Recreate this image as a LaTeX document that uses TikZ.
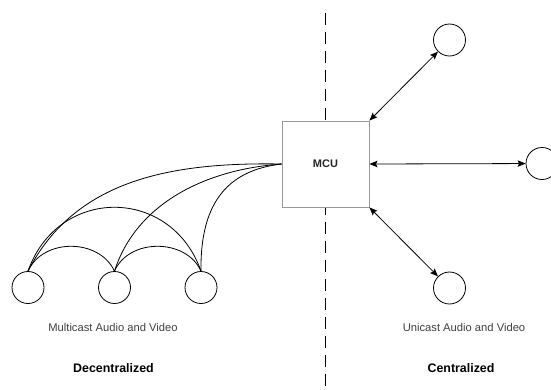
\documentclass[tikz,border=0pt]{standalone}
\usepackage{fontspec}
\setmainfont{Liberation Sans}
\usetikzlibrary{arrows.meta}
\begin{document}
\begin{tikzpicture}[x=1pt,y=-1pt,
  peer/.style={draw=black,circle,minimum size=32pt,inner sep=0pt,line width=0.8pt,fill=white},
  mcubox/.style={draw=black!40,fill=white,line width=0.9pt,minimum width=87pt,minimum height=86pt,inner sep=0pt,font=\fontsize{11}{13}\selectfont\bfseries,text=black!85},
  link/.style={draw=black,line width=0.8pt},
  duplex/.style={link,{Stealth[length=8pt,width=6.5pt,inset=1.5pt]}-{Stealth[length=8pt,width=6.5pt,inset=1.5pt]}},
  caption/.style={font=\fontsize{11.2}{13}\selectfont,text=black!75},
  heading/.style={font=\fontsize{12.4}{14}\selectfont\bfseries,text=black},
  divider/.style={draw=black,line width=1.2pt,dash pattern=on 12.5pt off 6.5pt}
]
\useasboundingbox (0,0) rectangle (551,389);

% divider between the two models
\coordinate (dtop) at (325.5,12.5);
\coordinate (dbot) at (325.5,392);
\draw[divider] (dtop) -- (dbot);

% centralized side: MCU and its participants
\node[mcubox] (mcu) at (325.5,164) {MCU};
\node[peer] (r1) at (449.5,40) {};
\node[peer] (r2) at (542,163.5) {};
\node[peer] (r3) at (449.5,288) {};

\draw[duplex] (mcu.north east) -- (r1);
\draw[duplex] (mcu.east) -- (r2);
\draw[duplex] (mcu.south east) -- (r3);

% decentralized side: peers in a full mesh
\node[peer] (l1) at (28,287.5) {};
\node[peer] (l2) at (114.5,287.5) {};
\node[peer] (l3) at (201,287.5) {};

\draw[link] (l1.north) .. controls (43,238) and (99,238) .. (l2.north);
\draw[link] (l2.north) .. controls (129,238) and (186,238) .. (l3.north);
\draw[link] (l1.north) .. controls (58,186) and (171,186) .. (l3.north);
\draw[link] (l1.north) .. controls (75,180) and (170,162) .. (mcu.west);
\draw[link] (l2.north) .. controls (135,207) and (200,170) .. (mcu.west);
\draw[link] (l3.north) .. controls (200,200) and (230,170) .. (mcu.west);

% captions
\node[caption] (mcap) at (113,327) {Multicast Audio and Video};
\node[heading] (mhead) at (113.5,368) {Decentralized};
\node[caption] (ucap) at (464,327) {Unicast Audio and Video};
\node[heading] (uhead) at (461,368) {Centralized};
\end{tikzpicture}
\end{document}
